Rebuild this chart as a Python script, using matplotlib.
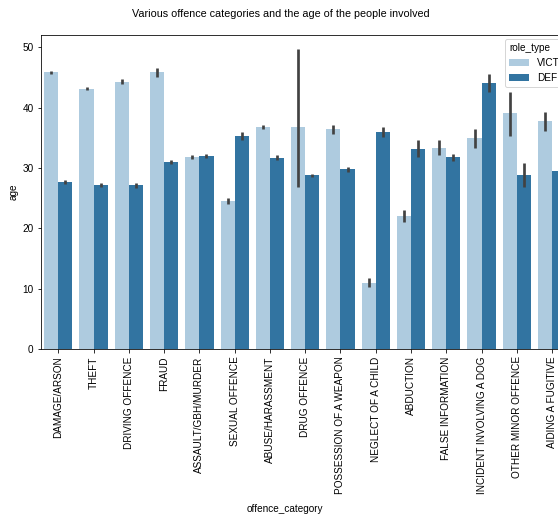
import numpy as np
import matplotlib
matplotlib.use("Agg")
import matplotlib.pyplot as plt
from matplotlib.patches import Patch

plt.rcParams['font.family'] = ['Liberation Sans', 'DejaVu Sans']

categories = ["DAMAGE/ARSON", "THEFT", "DRIVING OFFENCE", "FRAUD", "ASSAULT/GBH/MURDER",
              "SEXUAL OFFENCE", "ABUSE/HARASSMENT", "DRUG OFFENCE", "POSSESSION OF A WEAPON",
              "NEGLECT OF A CHILD", "ABDUCTION", "FALSE INFORMATION",
              "INCIDENT INVOLVING A DOG", "OTHER MINOR OFFENCE", "AIDING A FUGITIVE"]
roles = ["VICTIM", "DEFENDANT"]

victim_age = [45.9, 43.1, 44.3, 45.9, 31.8, 24.6, 36.8, 36.8, 36.4, 11.0, 22.1, 33.4, 34.9, 39.1, 37.8]
victim_lo = [45.5, 42.9, 43.9, 45.1, 31.5, 24.1, 36.5, 26.9, 35.7, 10.3, 21.1, 32.1, 33.4, 35.3, 36.2]
victim_hi = [46.1, 43.4, 44.7, 46.5, 32.2, 25.1, 37.1, 49.7, 37.1, 11.8, 23.1, 34.7, 36.4, 42.6, 39.3]

defendant_age = [27.7, 27.2, 27.2, 31.0, 32.0, 35.3, 31.7, 28.9, 29.8, 35.9, 33.2, 31.8, 44.1, 28.8, 29.5]
defendant_lo = [27.4, 26.9, 26.7, 30.7, 31.7, 34.7, 31.3, 28.6, 29.4, 35.1, 31.9, 31.1, 42.6, 26.9, 28.2]
defendant_hi = [28.0, 27.5, 27.6, 31.3, 32.3, 35.9, 32.1, 29.1, 30.2, 36.8, 34.7, 32.4, 45.6, 30.8, 30.6]

W, H, DPI = 558, 517, 72
fig = plt.figure(figsize=(W / DPI, H / DPI), dpi=DPI)
fig.patch.set_facecolor("white")

ax_left, ax_right, ax_top, ax_bottom = 40.7, 605.0, 34.7, 349.3
ax = fig.add_axes([ax_left / W, 1 - ax_bottom / H, (ax_right - ax_left) / W, (ax_bottom - ax_top) / H])

light = "#aecbdf"
dark = "#3274a1"
errc = "#424242"
bw = 0.4

x = np.arange(len(categories))
ax.bar(x - bw / 2, victim_age, width=bw, color=light, zorder=2)
ax.bar(x + bw / 2, defendant_age, width=bw, color=dark, zorder=2)
ax.vlines(x - bw / 2, victim_lo, victim_hi, color=errc, linewidth=2.7, zorder=3)
ax.vlines(x + bw / 2, defendant_lo, defendant_hi, color=errc, linewidth=2.7, zorder=3)

ax.set_xlim(-0.5, 15.5)
ax.set_ylim(0, 52.08)
ax.set_xticks(x)
ax.set_xticklabels(categories, rotation=90, fontsize=10)
ax.set_yticks([0, 10, 20, 30, 40, 50])
ax.tick_params(axis='y', labelsize=10)
ax.set_ylabel("age", fontsize=10)

fig.text(285 / W, 1 - 509 / H, "offence_category", ha='center', va='center', fontsize=10)
fig.text(281 / W, 1 - 14 / H, "Various offence categories and the age of the people involved",
         ha='center', va='center', fontsize=10.7)

handles = [Patch(facecolor=light), Patch(facecolor=dark)]
leg = fig.legend(handles, roles, title="role_type", loc='upper left',
                 bbox_to_anchor=(505 / W, 1 - 39 / H), bbox_transform=fig.transFigure,
                 borderaxespad=0, fontsize=10, title_fontsize=10, alignment='left')

fig.savefig("out.png", dpi=DPI)
